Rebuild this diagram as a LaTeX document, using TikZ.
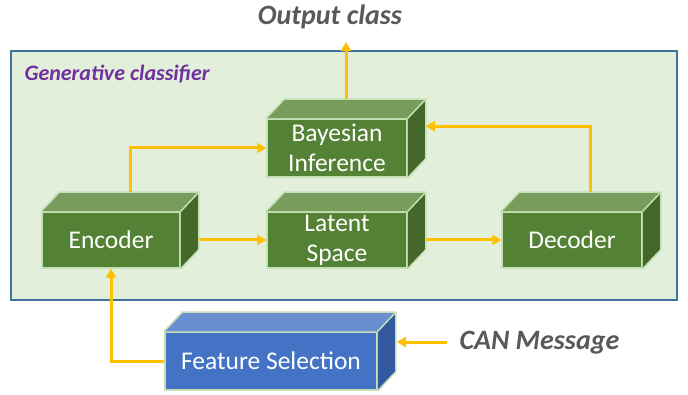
\documentclass[tikz,border=0pt]{standalone}
\usepackage{fontspec}
\setmainfont{Carlito}
\usetikzlibrary{arrows.meta,calc}
\definecolor{bgfill}{HTML}{E2EFDA}
\definecolor{bgline}{HTML}{41719C}
\definecolor{gfront}{HTML}{548235}
\definecolor{gtop}{HTML}{789C5B}
\definecolor{gside}{HTML}{43682A}
\definecolor{bfront}{HTML}{4472C4}
\definecolor{btop}{HTML}{6A8FD1}
\definecolor{bside}{HTML}{3359A0}
\definecolor{edgec}{HTML}{C5E0B4}
\definecolor{arr}{HTML}{FFC000}
\definecolor{graytxt}{HTML}{595959}
\definecolor{purp}{HTML}{7030A0}
\tikzset{
  front/.style={draw=edgec, line width=1.5pt, text=white, font=\fontsize{25.5}{30}\selectfont, align=center, inner sep=0pt},
  faceline/.style={draw=edgec, line width=1.5pt, line join=round},
  conn/.style={draw=arr, line width=3pt, -{Triangle[length=9pt,width=10pt]}},
  title/.style={text=graytxt, font=\fontsize{28}{30}\selectfont\bfseries\itshape},
}
\newcommand\mycuboid[4]{% name, front, top, side
  \fill[#3] (#1.north west) -- ++(18,-19) -- ($(#1.north east)+(18,-19)$) -- (#1.north east) -- cycle;
  \fill[#4] (#1.north east) -- ++(18,-19) -- ($(#1.south east)+(18,-19)$) -- (#1.south east) -- cycle;
  \draw[faceline] (#1.north west) -- ++(18,-19) -- ($(#1.north east)+(18,-19)$) -- ($(#1.south east)+(18,-19)$) -- (#1.south east);
  \draw[faceline] (#1.north east) -- ++(18,-19);
}
\begin{document}
\begin{tikzpicture}[x=1pt,y=-1pt]
\useasboundingbox (0,0) rectangle (688,395);
\fill[white] (0,0) rectangle (688,395);
\draw[bgline, fill=bgfill, line width=2pt] (11,51) rectangle (677,300);
\node[text=purp, font=\fontsize{22}{24}\selectfont\bfseries\itshape, anchor=west] (gen) at (21,74) {Generative classifier};
\node[title] (outtxt) at (330,17) {Output class};
\node[title, anchor=west] (cantxt) at (456,343) {CAN Message};

\node[front, fill=gfront, minimum width=138pt, minimum height=56pt] (enc) at (111,240) {Encoder};
\node[front, fill=gfront, minimum width=140pt, minimum height=58pt] (bay) at (337,148) {Bayesian\\Inference};
\node[front, fill=gfront, minimum width=140pt, minimum height=56pt] (lat) at (337,240) {Latent\\Space};
\node[front, fill=gfront, minimum width=140pt, minimum height=56pt] (dec) at (572,240) {Decoder};
\node[front, fill=bfront, minimum width=212pt, minimum height=58pt] (fs) at (271,361) {Feature Selection};
\mycuboid{enc}{gfront}{gtop}{gside}
\mycuboid{bay}{gfront}{gtop}{gside}
\mycuboid{lat}{gfront}{gtop}{gside}
\mycuboid{dec}{gfront}{gtop}{gside}
\mycuboid{fs}{bfront}{btop}{bside}

\coordinate (outend) at (346,42);
\coordinate (canstart) at (447,342);
\draw[conn] ($(bay.north)+(9,-19)$) -- (outend);
\draw[conn] ($(enc.north)+(19,-19)$) |- (bay.west);
\draw[conn] ($(dec.north)+(18,-19)$) |- ($(bay.north east)+(18,8)$);
\draw[conn] ($(enc.east)+(18,0)$) -- (lat.west);
\draw[conn] ($(lat.east)+(18,0)$) -- (dec.west);
\draw[conn] (fs.west) -| (enc.south);
\draw[conn] (canstart) -- ($(fs.east)+(19,-19)$);
\end{tikzpicture}
\end{document}
